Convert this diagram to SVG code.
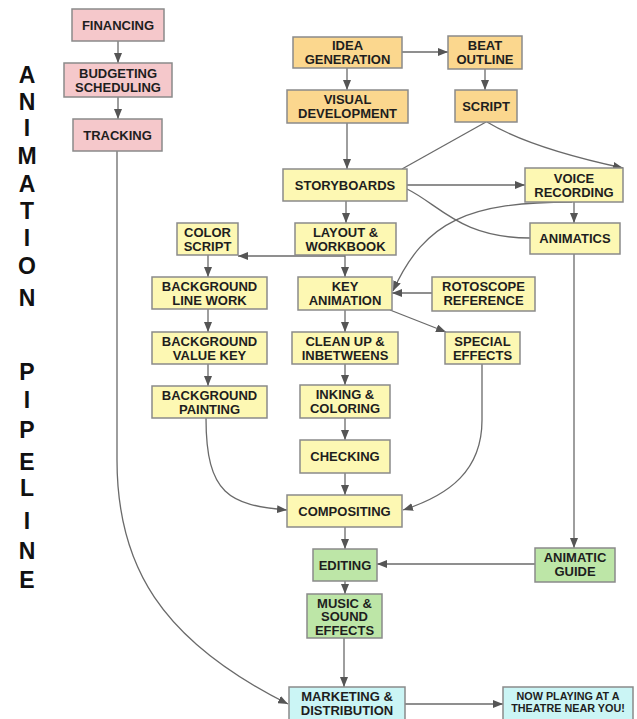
<svg xmlns="http://www.w3.org/2000/svg" width="637" height="719" viewBox="0 0 637 719">
<style>
.box{stroke:#8a8a8a;stroke-width:1.5}
.pink{fill:#f5c8cb}
.orange{fill:#fbd78e}
.yellow{fill:#fdf8b3}
.green{fill:#bde6a7}
.cyan{fill:#cbf5f5}
.t{font-family:"Liberation Sans",Arial,sans-serif;font-weight:bold;font-size:13px;fill:#1e1e1e;text-anchor:middle}
.s{font-size:10.8px}
.title{font-family:"Liberation Sans",Arial,sans-serif;font-weight:bold;font-size:23px;fill:#111;text-anchor:middle}
.c{fill:none;stroke:#6a6a6a;stroke-width:1.3}
</style>
<defs>
<marker id="ah" viewBox="0 0 10 8" refX="10" refY="4" markerWidth="10" markerHeight="8" markerUnits="userSpaceOnUse" orient="auto">
<path d="M0,0 L10,4 L0,8 z" fill="#555"/>
</marker>
</defs>
<rect width="637" height="719" fill="#fff"/>
<g id="title">
<text class="title" x="27" y="83">A</text>
<text class="title" x="27" y="110">N</text>
<text class="title" x="27" y="136">I</text>
<text class="title" x="27" y="164">M</text>
<text class="title" x="27" y="192">A</text>
<text class="title" x="27" y="219">T</text>
<text class="title" x="27" y="246">I</text>
<text class="title" x="27" y="274">O</text>
<text class="title" x="27" y="306">N</text>
<text class="title" x="27" y="380">P</text>
<text class="title" x="27" y="408">I</text>
<text class="title" x="27" y="438">P</text>
<text class="title" x="27" y="470">E</text>
<text class="title" x="27" y="496">L</text>
<text class="title" x="27" y="529">I</text>
<text class="title" x="27" y="559">N</text>
<text class="title" x="27" y="588">E</text>
</g>
<g id="connectors">
<path class="c" d="M118,41 L118,63" marker-end="url(#ah)"/>
<path class="c" d="M118,97 L118,119" marker-end="url(#ah)"/>
<path class="c" d="M117,151 L117,460 C117,565 160,640 288,704" marker-end="url(#ah)"/>
<path class="c" d="M402,52 L448,52" marker-end="url(#ah)"/>
<path class="c" d="M347,68 L347,90" marker-end="url(#ah)"/>
<path class="c" d="M485,69 L485,90" marker-end="url(#ah)"/>
<path class="c" d="M347,123 L347,169" marker-end="url(#ah)"/>
<path class="c" d="M486,122 L402,169"/>
<path class="c" d="M487,122 Q530,148 623,168" marker-end="url(#ah)"/>
<path class="c" d="M407,185 L525,185" marker-end="url(#ah)"/>
<path class="c" d="M407,189 C440,205 460,238 530,238"/>
<path class="c" d="M346,201 L346,223" marker-end="url(#ah)"/>
<path class="c" d="M574,202 L574,223" marker-end="url(#ah)"/>
<path class="c" d="M572,202 C470,202 425,220 393,291" marker-end="url(#ah)"/>
<path class="c" d="M345,256 L238,256" marker-end="url(#ah)"/>
<path class="c" d="M345,255 L345,277" marker-end="url(#ah)"/>
<path class="c" d="M208,255 L208,277" marker-end="url(#ah)"/>
<path class="c" d="M208,309 L208,332" marker-end="url(#ah)"/>
<path class="c" d="M208,364 L208,386" marker-end="url(#ah)"/>
<path class="c" d="M432,293 L392,293" marker-end="url(#ah)"/>
<path class="c" d="M390,310 L446,332" marker-end="url(#ah)"/>
<path class="c" d="M345,310 L345,332" marker-end="url(#ah)"/>
<path class="c" d="M345,364 L345,385" marker-end="url(#ah)"/>
<path class="c" d="M345,418 L345,440" marker-end="url(#ah)"/>
<path class="c" d="M345,473 L345,495" marker-end="url(#ah)"/>
<path class="c" d="M206,418 C206,495 230,505 287,510" marker-end="url(#ah)"/>
<path class="c" d="M482,364 L482,420 C482,470 450,495 403,510" marker-end="url(#ah)"/>
<path class="c" d="M345,527 L345,549" marker-end="url(#ah)"/>
<path class="c" d="M574,254 L574,548" marker-end="url(#ah)"/>
<path class="c" d="M535,564 L377,564" marker-end="url(#ah)"/>
<path class="c" d="M345,581 L345,594" marker-end="url(#ah)"/>
<path class="c" d="M344,638 L344,687" marker-end="url(#ah)"/>
<path class="c" d="M405,704 L503,704" marker-end="url(#ah)"/>
</g>
<g id="financing"><rect class="box pink" x="72" y="9" width="92" height="32"/><text class="t" x="118" y="29.7">FINANCING</text></g>
<g id="budgeting"><rect class="box pink" x="64" y="63" width="108" height="34"/><text class="t" x="118" y="77.5">BUDGETING</text><text class="t" x="118" y="91.8">SCHEDULING</text></g>
<g id="tracking"><rect class="box pink" x="73" y="119" width="89" height="32"/><text class="t" x="117.5" y="139.7">TRACKING</text></g>
<g id="idea"><rect class="box orange" x="293" y="37" width="109" height="31"/><text class="t" x="347.5" y="49.5">IDEA</text><text class="t" x="347.5" y="63.8">GENERATION</text></g>
<g id="beat"><rect class="box orange" x="448" y="36" width="74" height="33"/><text class="t" x="485" y="49.5">BEAT</text><text class="t" x="485" y="63.8">OUTLINE</text></g>
<g id="visual"><rect class="box orange" x="287" y="90" width="121" height="33"/><text class="t" x="347.5" y="103.5">VISUAL</text><text class="t" x="347.5" y="117.8">DEVELOPMENT</text></g>
<g id="script"><rect class="box orange" x="455" y="90" width="62" height="32"/><text class="t" x="486" y="110.7">SCRIPT</text></g>
<g id="storyboards"><rect class="box yellow" x="283" y="169" width="124" height="32"/><text class="t" x="345" y="189.7">STORYBOARDS</text></g>
<g id="voice"><rect class="box yellow" x="525" y="168" width="98" height="34"/><text class="t" x="574" y="182.5">VOICE</text><text class="t" x="574" y="196.8">RECORDING</text></g>
<g id="colorscript"><rect class="box yellow" x="177" y="223" width="61" height="32"/><text class="t" x="207.5" y="236.5">COLOR</text><text class="t" x="207.5" y="250.8">SCRIPT</text></g>
<g id="layout"><rect class="box yellow" x="295" y="223" width="101" height="32"/><text class="t" x="345.5" y="236.5">LAYOUT &amp;</text><text class="t" x="345.5" y="250.8">WORKBOOK</text></g>
<g id="animatics"><rect class="box yellow" x="530" y="223" width="90" height="31"/><text class="t" x="575" y="243.2">ANIMATICS</text></g>
<g id="bgline"><rect class="box yellow" x="152" y="277" width="115" height="32"/><text class="t" x="209.5" y="290.5">BACKGROUND</text><text class="t" x="209.5" y="304.8">LINE WORK</text></g>
<g id="keyanim"><rect class="box yellow" x="298" y="277" width="94" height="33"/><text class="t" x="345" y="290.5">KEY</text><text class="t" x="345" y="304.8">ANIMATION</text></g>
<g id="roto"><rect class="box yellow" x="432" y="277" width="103" height="34"/><text class="t" x="483.5" y="291">ROTOSCOPE</text><text class="t" x="483.5" y="305.3">REFERENCE</text></g>
<g id="bgvalue"><rect class="box yellow" x="152" y="332" width="115" height="32"/><text class="t" x="209.5" y="345.5">BACKGROUND</text><text class="t" x="209.5" y="359.8">VALUE KEY</text></g>
<g id="cleanup"><rect class="box yellow" x="292" y="332" width="106" height="32"/><text class="t" x="345" y="345.5">CLEAN UP &amp;</text><text class="t" x="345" y="359.8">INBETWEENS</text></g>
<g id="special"><rect class="box yellow" x="445" y="332" width="75" height="32"/><text class="t" x="482.5" y="345.5">SPECIAL</text><text class="t" x="482.5" y="359.8">EFFECTS</text></g>
<g id="bgpaint"><rect class="box yellow" x="152" y="386" width="115" height="32"/><text class="t" x="209.5" y="399.5">BACKGROUND</text><text class="t" x="209.5" y="413.8">PAINTING</text></g>
<g id="inking"><rect class="box yellow" x="300" y="385" width="90" height="33"/><text class="t" x="345" y="399">INKING &amp;</text><text class="t" x="345" y="413.3">COLORING</text></g>
<g id="checking"><rect class="box yellow" x="300" y="440" width="90" height="33"/><text class="t" x="345" y="461.2">CHECKING</text></g>
<g id="compositing"><rect class="box yellow" x="287" y="495" width="115" height="32"/><text class="t" x="344.5" y="515.7">COMPOSITING</text></g>
<g id="editing"><rect class="box green" x="313" y="549" width="64" height="32"/><text class="t" x="345" y="569.7">EDITING</text></g>
<g id="animaticguide"><rect class="box green" x="535" y="548" width="80" height="34"/><text class="t" x="575" y="562">ANIMATIC</text><text class="t" x="575" y="576.3">GUIDE</text></g>
<g id="music"><rect class="box green" x="307" y="594" width="75" height="44"/><text class="t" x="344.5" y="607.5">MUSIC &amp;</text><text class="t" x="344.5" y="621.2">SOUND</text><text class="t" x="344.5" y="634.9">EFFECTS</text></g>
<g id="marketing"><rect class="box cyan" x="289" y="687" width="116" height="34"/><text class="t" x="347" y="701">MARKETING &amp;</text><text class="t" x="347" y="715.3">DISTRIBUTION</text></g>
<g id="nowplaying"><rect class="box cyan" x="503" y="687" width="130" height="34"/><text class="t s" x="568" y="699.5">NOW PLAYING AT A</text><text class="t s" x="568" y="711.5">THEATRE NEAR YOU!</text></g>
</svg>
